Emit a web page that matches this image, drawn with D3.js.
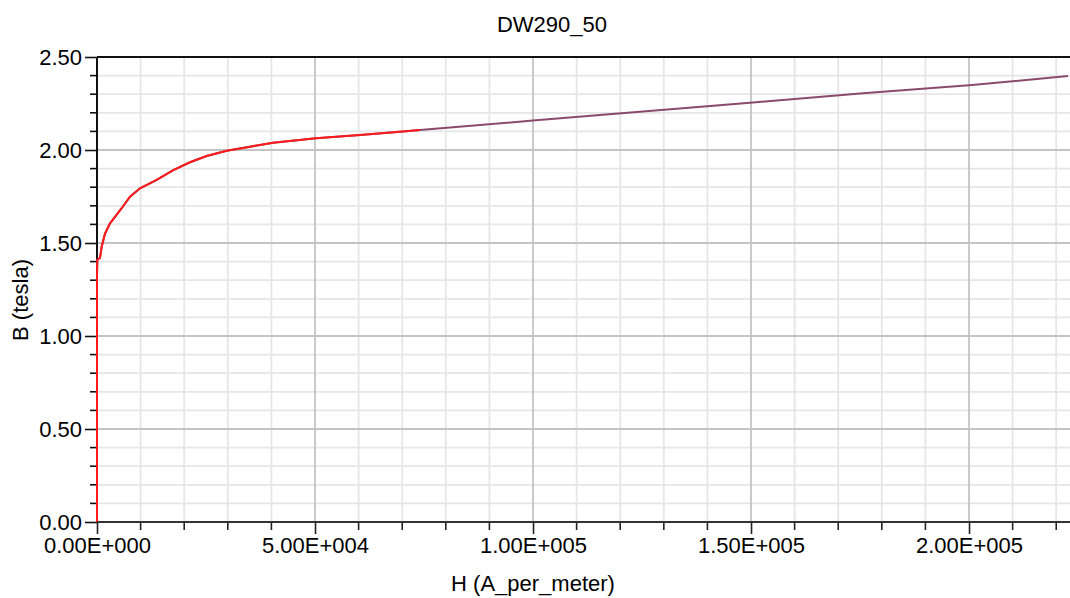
<!DOCTYPE html>
<html><head><meta charset="utf-8">
<script src="https://cdn.jsdelivr.net/npm/d3@7"></script>
<style>body{margin:0;background:#fff}svg{display:block;font-family:"Liberation Sans",Arial,sans-serif}</style>
</head><body><svg id="c" width="1070" height="598"></svg>
<script>
const H = [0, 0, 70, 690, 1070, 1830, 2980, 4130, 5660, 7570, 9860, 13690, 17500, 21330, 25160, 29750, 35090, 40370, 50230, 60320, 69500, 74080, 100000, 115370, 150460, 175700, 200700, 222700];
const B = [0, 1.32, 1.41, 1.42, 1.48, 1.55, 1.606, 1.64, 1.687, 1.749, 1.794, 1.839, 1.892, 1.934, 1.968, 1.996, 2.018, 2.039, 2.063, 2.081, 2.098, 2.107, 2.158, 2.188, 2.256, 2.305, 2.349, 2.398];
const redEndH = 74080;
const xTicks = [0, 50000, 100000, 150000, 200000];
const yTicks = [0, 0.5, 1.0, 1.5, 2.0, 2.5];
const title = "DW290_50", xLabel = "H (A_per_meter)", yLabel = "B (tesla)";

const svg = d3.select("#c");
const L = 97, R = 1068, T = 57, Bt = 522;
const FS = 22;
const x = d3.scaleLinear().domain([0, 222700]).range([L, R]);
const y = d3.scaleLinear().domain([0, 2.5]).range([Bt, T]);

const xMinor = d3.range(0, 222701, 10000);
const yMinor = d3.range(0, 26).map(i => i / 10);
const g = svg.append("g");
g.selectAll(".vx").data(xMinor.filter(v => v % 50000 !== 0)).join("line")
  .attr("x1", d => x(d)).attr("x2", d => x(d)).attr("y1", T).attr("y2", Bt)
  .attr("stroke", "#e6e6e6").attr("stroke-width", 1.8);
g.selectAll(".hy").data(yMinor.filter(v => Math.round(v * 10) % 5 !== 0)).join("line")
  .attr("y1", d => y(d)).attr("y2", d => y(d)).attr("x1", L).attr("x2", 1070)
  .attr("stroke", "#e6e6e6").attr("stroke-width", 1.8);
g.selectAll(".vX").data(xTicks.filter(v => v > 0)).join("line")
  .attr("x1", d => x(d)).attr("x2", d => x(d)).attr("y1", T).attr("y2", Bt)
  .attr("stroke", "#c4c4c4").attr("stroke-width", 1.8);
g.selectAll(".hY").data(yTicks.filter(v => v > 0 && v < 2.5)).join("line")
  .attr("y1", d => y(d)).attr("y2", d => y(d)).attr("x1", L).attr("x2", 1070)
  .attr("stroke", "#c4c4c4").attr("stroke-width", 1.8);

const xAxis = d3.axisBottom(x).tickValues(xTicks).tickSize(12).tickPadding(3)
  .tickFormat(d => { const s = d.toExponential(2).toUpperCase(); const m = s.match(/^(.*)E([+-])(\d+)$/); return m[1] + "E" + m[2] + m[3].padStart(3, "0"); });
const xa = svg.append("g").attr("transform", `translate(0,${Bt})`).call(xAxis);
xa.select(".domain").remove();
xa.selectAll("line").attr("stroke", "#222").attr("stroke-width", 1.6);
xa.selectAll("text").attr("font-size", FS).attr("fill", "#000").attr("font-family", "Liberation Sans, Arial, sans-serif");
svg.append("g").selectAll("line").data(xMinor.filter(v => v % 50000 !== 0)).join("line")
  .attr("x1", d => x(d)).attr("x2", d => x(d)).attr("y1", Bt).attr("y2", Bt + 8)
  .attr("stroke", "#222").attr("stroke-width", 1.6);

const yAxis = d3.axisLeft(y).tickValues(yTicks).tickSize(12).tickPadding(3).tickFormat(d3.format(".2f"));
const ya = svg.append("g").attr("transform", `translate(${L},0)`).call(yAxis);
ya.select(".domain").remove();
ya.selectAll("line").attr("stroke", "#111").attr("stroke-width", 1.6);
ya.selectAll("text").attr("font-size", FS).attr("fill", "#000").attr("font-family", "Liberation Sans, Arial, sans-serif");
svg.append("g").selectAll("line").data(yMinor.filter(v => Math.round(v * 10) % 5 !== 0)).join("line")
  .attr("y1", d => y(d)).attr("y2", d => y(d)).attr("x1", L - 7).attr("x2", L)
  .attr("stroke", "#111").attr("stroke-width", 1.6);

svg.append("line").attr("x1", L).attr("x2", 1070).attr("y1", Bt).attr("y2", Bt).attr("stroke", "#333").attr("stroke-width", 2);
svg.append("line").attr("x1", L).attr("x2", 1070).attr("y1", T).attr("y2", T).attr("stroke", "#111").attr("stroke-width", 2);
svg.append("line").attr("x1", L).attr("x2", L).attr("y1", T).attr("y2", Bt).attr("stroke", "#111").attr("stroke-width", 2);

const pts = H.map((h, i) => [h, B[i]]);
const line = d3.line().x(d => x(d[0])).y(d => y(d[1]));
svg.append("path").datum(pts.slice(1)).attr("d", line).attr("fill", "none")
  .attr("stroke", "#8a4a6e").attr("stroke-width", 2);
svg.append("path").datum(pts.filter(p => p[0] <= redEndH)).attr("d", line).attr("fill", "none")
  .attr("stroke", "#ff1a1a").attr("stroke-width", 2);

svg.append("text").attr("x", 552).attr("y", 32).attr("text-anchor", "middle").attr("font-size", FS).text(title);
svg.append("text").attr("x", 533).attr("y", 591).attr("text-anchor", "middle").attr("font-size", FS).text(xLabel);
svg.append("text").attr("transform", "translate(28,300) rotate(-90)").attr("text-anchor", "middle").attr("font-size", FS).text(yLabel);
</script></body></html>
